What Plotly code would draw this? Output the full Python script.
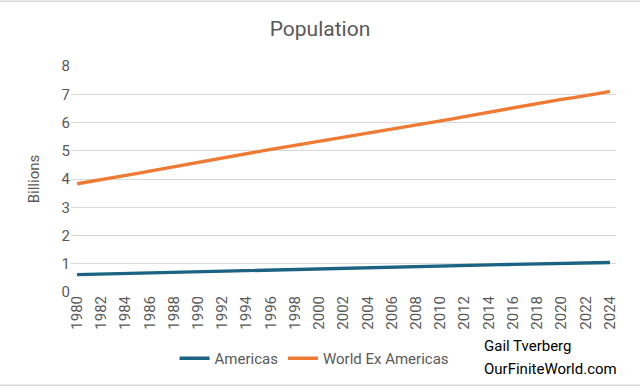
import plotly.graph_objects as go

years = list(range(1980, 2025))
americas = [0.614, 0.625, 0.636, 0.647, 0.657, 0.668, 0.679, 0.690, 0.700, 0.711,
            0.722, 0.733, 0.744, 0.755, 0.765, 0.776, 0.787, 0.798, 0.808, 0.819,
            0.829, 0.839, 0.849, 0.859, 0.869, 0.878, 0.888, 0.897, 0.907, 0.916,
            0.925, 0.934, 0.943, 0.952, 0.961, 0.969, 0.977, 0.985, 0.993, 1.001,
            1.008, 1.016, 1.024, 1.032, 1.045]
world_ex_americas = [3.83, 3.90, 3.98, 4.05, 4.12, 4.20, 4.28, 4.36, 4.44, 4.52,
                     4.60, 4.68, 4.76, 4.84, 4.91, 4.98, 5.05, 5.12, 5.19, 5.26,
                     5.33, 5.40, 5.47, 5.54, 5.61, 5.68, 5.75, 5.83, 5.90, 5.98,
                     6.06, 6.13, 6.21, 6.29, 6.37, 6.45, 6.53, 6.61, 6.68, 6.75,
                     6.82, 6.88, 6.94, 7.02, 7.10]
tick_years = list(range(1980, 2025, 2))

GRAY = "#595959"
FONT = "Roboto"

fig = go.Figure()
fig.add_trace(go.Scatter(x=years, y=americas, mode="lines", name="Americas",
                         line=dict(color="#1B6283", width=3.4)))
fig.add_trace(go.Scatter(x=years, y=world_ex_americas, mode="lines", name="World Ex Americas",
                         line=dict(color="#EF7A34", width=3.4)))

fig.update_layout(
    width=640, height=388,
    margin=dict(l=71, r=24, t=66, b=95.5),
    paper_bgcolor="white", plot_bgcolor="white",
    font=dict(family=FONT, color=GRAY, size=15),
    title=dict(text="Population", x=0.5, xanchor="center", y=0.925, yanchor="middle",
               font=dict(family=FONT, size=21, color=GRAY)),
    xaxis=dict(range=[1979.5, 2024.5], tickmode="array", tickvals=tick_years,
               ticktext=[str(y) for y in tick_years], tickangle=-90,
               showgrid=False, zeroline=False, showline=False, ticks="",
               tickfont=dict(size=15, color=GRAY)),
    yaxis=dict(range=[0, 8], dtick=1, showgrid=True, gridcolor="#D9D9D9", gridwidth=1,
               zeroline=False, showline=False, ticks="",
               title=dict(text="Billions", font=dict(size=15, color=GRAY), standoff=18),
               tickfont=dict(size=15, color=GRAY)),
    legend=dict(orientation="h", x=0.19, xanchor="left", y=-0.294, yanchor="middle",
                font=dict(size=15, color=GRAY), itemwidth=30, bgcolor="rgba(0,0,0,0)"),
    showlegend=True,
)

fig.add_annotation(text="Gail Tverberg", xref="paper", yref="paper", x=0.754, y=-0.241,
                   xanchor="left", yanchor="middle", showarrow=False,
                   font=dict(family=FONT, size=15, color="black"))
fig.add_annotation(text="OurFiniteWorld.com", xref="paper", yref="paper", x=0.754, y=-0.342,
                   xanchor="left", yanchor="middle", showarrow=False,
                   font=dict(family=FONT, size=15, color="black"))

for yy in (1.287, -0.413):
    fig.add_shape(type="line", xref="paper", yref="paper", x0=-0.135, x1=1.05, y0=yy, y1=yy,
                  line=dict(color="#D9D9D9", width=1.5), layer="below")

fig.write_html("out.html")
